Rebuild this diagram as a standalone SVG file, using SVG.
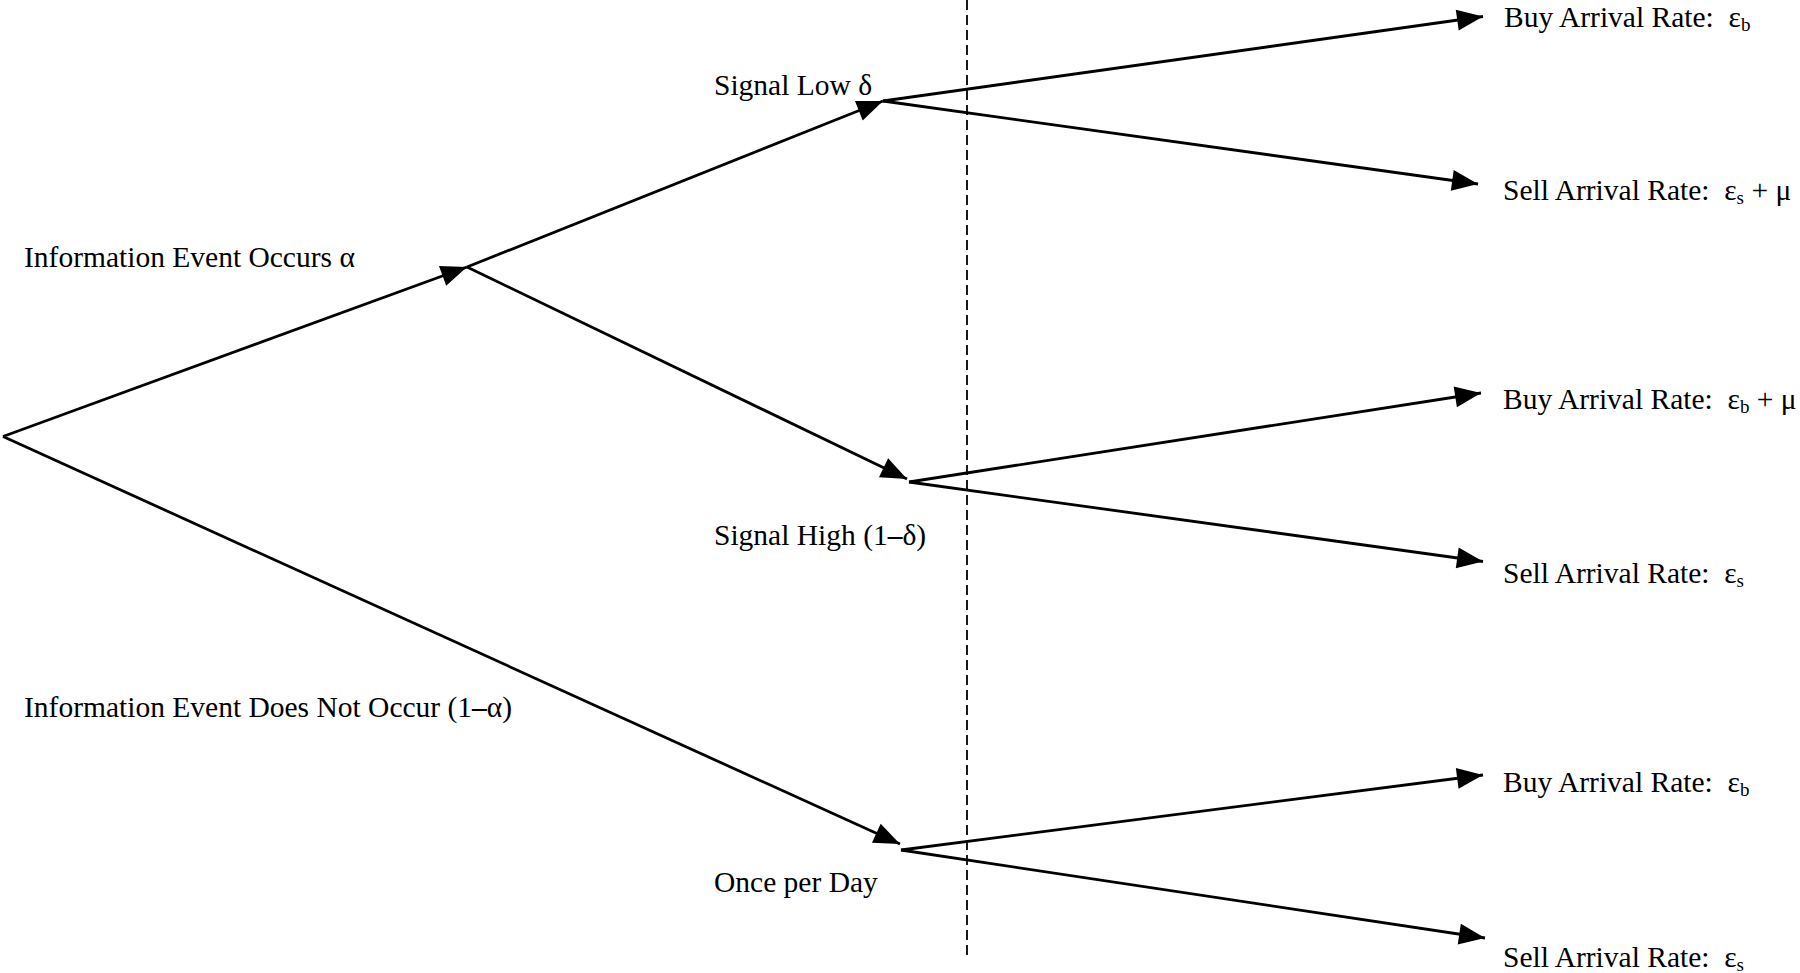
<svg xmlns="http://www.w3.org/2000/svg" width="1800" height="973" viewBox="0 0 1800 973">
<defs>
<style>
.lbl { font-family: "Liberation Serif", "Times New Roman", serif; font-size: 29.5px; fill: #000; }
.sub { font-size: 19px; }
.edge { stroke: #000; stroke-width: 2.8; fill: none; marker-end: url(#arr); }
.divider { stroke: #000; stroke-width: 1.8; stroke-dasharray: 10 5; fill: none; }
</style>
<marker id="arr" markerUnits="userSpaceOnUse" markerWidth="28" markerHeight="22" refX="26" refY="10.5" orient="auto" overflow="visible">
<path d="M0,0 L26,10.5 L0,21 z" fill="#000"/>
</marker>
</defs>
<rect width="1800" height="973" fill="#fff"/>
<g id="connectors">
<line class="divider" x1="967" y1="0" x2="967" y2="958"/>
<line class="edge" x1="3" y1="436.5" x2="467" y2="267"/>
<line class="edge" x1="467" y1="267" x2="883" y2="101"/>
<line class="edge" x1="467" y1="267" x2="907" y2="479"/>
<line class="edge" x1="3" y1="436.5" x2="900" y2="844"/>
<line class="edge" x1="883" y1="101" x2="1483" y2="16.5"/>
<line class="edge" x1="883" y1="101" x2="1478" y2="184"/>
<line class="edge" x1="909" y1="482" x2="1481" y2="393"/>
<line class="edge" x1="909" y1="482" x2="1483" y2="561.5"/>
<line class="edge" x1="901" y1="850" x2="1483" y2="775"/>
<line class="edge" x1="901" y1="850" x2="1485" y2="938"/>
</g>
<g id="node-info-occurs"><text class="lbl" x="24" y="266.5">Information Event Occurs α</text></g>
<g id="node-info-not-occur"><text class="lbl" x="24" y="717">Information Event Does Not Occur (1<tspan font-weight="bold">–</tspan>α)</text></g>
<g id="node-signal-low"><text class="lbl" x="714" y="95">Signal Low δ</text></g>
<g id="node-signal-high"><text class="lbl" x="714" y="545">Signal High (1<tspan font-weight="bold">–</tspan>δ)</text></g>
<g id="node-once-per-day"><text class="lbl" x="714" y="892">Once per Day</text></g>
<g id="node-buy-1"><text class="lbl" x="1504" y="27" xml:space="preserve">Buy Arrival Rate:  ε<tspan class="sub" dy="4">b</tspan></text></g>
<g id="node-sell-1"><text class="lbl" x="1503" y="200" xml:space="preserve">Sell Arrival Rate:  ε<tspan class="sub" dy="4">s</tspan><tspan dy="-4"> + μ</tspan></text></g>
<g id="node-buy-2"><text class="lbl" x="1503" y="409" xml:space="preserve">Buy Arrival Rate:  ε<tspan class="sub" dy="4">b</tspan><tspan dy="-4"> + μ</tspan></text></g>
<g id="node-sell-2"><text class="lbl" x="1503" y="583" xml:space="preserve">Sell Arrival Rate:  ε<tspan class="sub" dy="4">s</tspan></text></g>
<g id="node-buy-3"><text class="lbl" x="1503" y="792" xml:space="preserve">Buy Arrival Rate:  ε<tspan class="sub" dy="4">b</tspan></text></g>
<g id="node-sell-3"><text class="lbl" x="1503" y="967" xml:space="preserve">Sell Arrival Rate:  ε<tspan class="sub" dy="4">s</tspan></text></g>
</svg>
